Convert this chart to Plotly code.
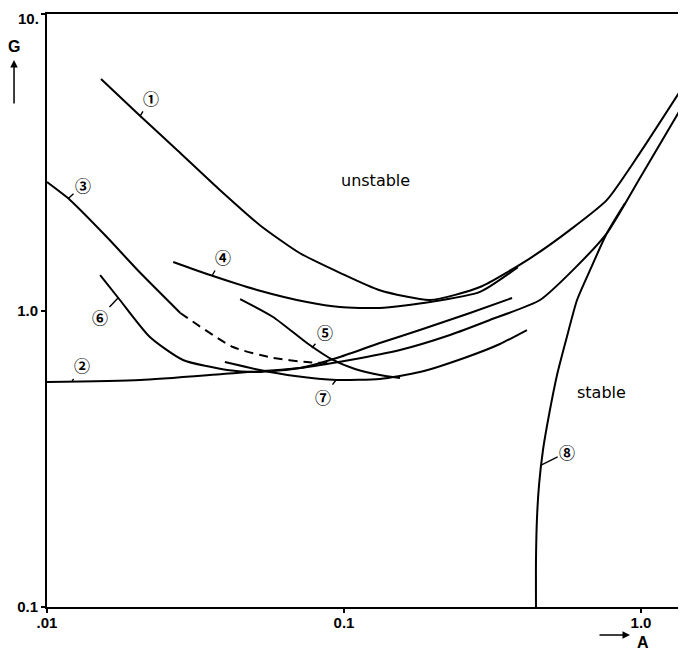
import math
import plotly.graph_objects as go

# ---- data (A, G) ----
c1_A = [0.0152, 0.0206, 0.0274, 0.0382, 0.0521, 0.0711, 0.0969, 0.132, 0.195, 0.287, 0.423, 0.577, 0.768, 0.992, 1.418]
c1_G = [6.04, 4.53, 3.48, 2.55, 1.94, 1.56, 1.34, 1.17, 1.085, 1.20, 1.50, 1.87, 2.36, 3.40, 5.90]

c2_A = [0.01, 0.0206, 0.0391, 0.0711, 0.1047, 0.1544, 0.2275, 0.310, 0.457, 0.599, 0.768, 0.992, 1.418]
c2_G = [0.574, 0.583, 0.611, 0.640, 0.681, 0.736, 0.827, 0.929, 1.085, 1.39, 1.825, 2.80, 5.13]

c3_A = [0.01, 0.01195, 0.0159, 0.0206, 0.0281]
c3_G = [2.71, 2.36, 1.77, 1.34, 0.981]
c3d_A = [0.0281, 0.0423, 0.0577, 0.0750, 0.0897]
c3d_G = [0.981, 0.753, 0.692, 0.670, 0.665]

c4_A = [0.0266, 0.0354, 0.0510, 0.0750, 0.0969, 0.132, 0.195, 0.287, 0.385]
c4_G = [1.457, 1.317, 1.173, 1.068, 1.027, 1.020, 1.068, 1.155, 1.40]

c5_A = [0.0447, 0.0577, 0.0750, 0.0918, 0.1089, 0.132, 0.1544]
c5_G = [1.093, 0.951, 0.777, 0.681, 0.635, 0.606, 0.592]

c6_A = [0.0151, 0.0176, 0.0222, 0.0287, 0.0404, 0.0510, 0.0711, 0.0969, 0.132, 0.180, 0.2656, 0.368]
c6_G = [1.317, 1.085, 0.814, 0.681, 0.630, 0.620, 0.640, 0.697, 0.777, 0.859, 0.981, 1.102]

c7_A = [0.0397, 0.0521, 0.0684, 0.0947, 0.132, 0.180, 0.2595, 0.335, 0.413]
c7_G = [0.670, 0.630, 0.601, 0.583, 0.588, 0.620, 0.697, 0.771, 0.859]

c8_A = [0.443, 0.443, 0.4466, 0.4536, 0.4677, 0.490, 0.5215, 0.5593, 0.609, 0.674, 0.768, 0.883]
c8_G = [0.1, 0.144, 0.201, 0.258, 0.3385, 0.444, 0.606, 0.795, 1.085, 1.37, 1.825, 2.30]

# curve labels: text, anchor point on curve (A, G), text offset in px
lab_text = ["①", "②", "③", "④", "⑤", "⑥", "⑦", "⑧"]
lab_A = [0.0206, 0.01214, 0.01177, 0.0359, 0.078, 0.01734, 0.0940, 0.461]
lab_G = [4.53, 0.577, 2.38, 1.307, 0.747, 1.102, 0.583, 0.301]
lab_dx = [11, 10, 15, 11, 13, -18, -13, 26]
lab_dy = [-18, -16, -14, -19, -16, 19, 17, -13]

region_text = ["unstable", "stable"]
region_A = [0.1272, 0.739]
region_G = [2.754, 0.527]

x_tickvals = [0.01, 0.1, 1.0]
x_ticktext = [".01", "0.1", "1.0"]
y_tickvals = [0.1, 1.0, 10]
y_ticktext = ["0.1", "1.0", ""]   # the top label "10." is placed as an annotation so it is not clipped
y_top_label = "10."

fig = go.Figure()
for xs, ys in [(c1_A, c1_G), (c2_A, c2_G), (c3_A, c3_G), (c4_A, c4_G),
               (c5_A, c5_G), (c6_A, c6_G), (c7_A, c7_G), (c8_A, c8_G)]:
    fig.add_trace(go.Scatter(x=xs, y=ys, mode="lines",
                             line=dict(color="black", width=2, shape="spline", smoothing=0.6),
                             showlegend=False, hoverinfo="skip"))
fig.add_trace(go.Scatter(x=c3d_A, y=c3d_G, mode="lines",
                         line=dict(color="black", width=2, dash="9px,6px", shape="spline", smoothing=0.6),
                         showlegend=False, hoverinfo="skip"))

L = math.log10
ann = []
for t, a, g, dx, dy in zip(lab_text, lab_A, lab_G, lab_dx, lab_dy):
    ann.append(dict(x=L(a), y=L(g), xref="x", yref="y", text="<b>%s</b>" % t, showarrow=True, arrowhead=0,
                    arrowwidth=1.4, arrowcolor="black", ax=dx, ay=dy, standoff=0,
                    font=dict(family="Noto Sans CJK JP", size=16, color="black")))
for t, a, g in zip(region_text, region_A, region_G):
    ann.append(dict(x=L(a), y=L(g), xref="x", yref="y", text=t, showarrow=False,
                    xanchor="center", yanchor="middle",
                    font=dict(family="DejaVu Sans", size=16, color="black")))

# top y tick label
ann.append(dict(x=-0.009, y=1, xref="paper", yref="paper", text="<b>%s</b>" % y_top_label, showarrow=False,
                xanchor="right", yanchor="top", yshift=6,
                font=dict(family="Liberation Sans", size=15, color="black")))

# axis titles with arrows
ann.append(dict(x=-0.0516, y=0.946, xref="paper", yref="paper", text="<b>G</b>", showarrow=False,
                xanchor="center", yanchor="middle",
                font=dict(family="Liberation Sans", size=16, color="black")))
ann.append(dict(x=-0.0516, y=(607 - 60) / 593, xref="paper", yref="paper", text="", showarrow=True,
                arrowhead=2, arrowsize=1, arrowwidth=1.5, arrowcolor="black", ax=0, ay=45))
ann.append(dict(x=(630 - 47) / 639, y=(607 - 635) / 593, xref="paper", yref="paper", text="", showarrow=True,
                arrowhead=2, arrowsize=1, arrowwidth=1.5, arrowcolor="black", ax=-32, ay=0))
ann.append(dict(x=(643 - 47) / 639, y=(607 - 642) / 593, xref="paper", yref="paper", text="<b>A</b>", showarrow=False,
                xanchor="center", yanchor="middle",
                font=dict(family="Liberation Sans", size=16, color="black")))

# page body has an 8px default margin -> compensate so the plot area sits at (47..686, 14..607)
fig.update_layout(
    width=678, height=643,
    margin=dict(l=39, r=0, t=6, b=44),
    paper_bgcolor="white", plot_bgcolor="white",
    annotations=ann,
    xaxis=dict(type="log", range=[-2, 0.1515], showgrid=False, zeroline=False, automargin=False,
               showline=True, linecolor="black", linewidth=2, mirror=True,
               ticks="outside", ticklen=4, tickwidth=2, tickcolor="black",
               ticklabelstandoff=-3, ticklabeloverflow="allow",
               tickvals=x_tickvals, ticktext=["<b>%s</b>" % t for t in x_ticktext],
               tickfont=dict(family="Liberation Sans", size=15, color="black")),
    yaxis=dict(type="log", range=[-1, 1], showgrid=False, zeroline=False, automargin=False,
               showline=True, linecolor="black", linewidth=2, mirror=False,
               ticks="outside", ticklen=4, tickwidth=2, tickcolor="black",
               ticklabeloverflow="allow",
               tickvals=y_tickvals, ticktext=["<b>%s</b>" % t if t else "" for t in y_ticktext],
               tickfont=dict(family="Liberation Sans", size=15, color="black")),
)
fig.write_html("out.html")
